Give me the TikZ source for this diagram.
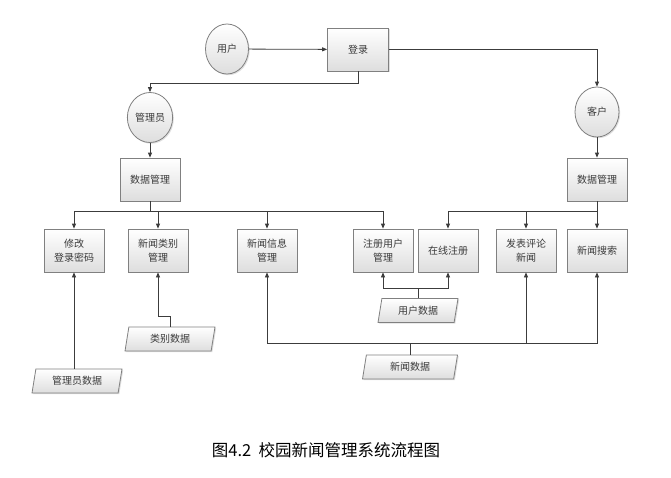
\documentclass[tikz,border=0pt]{standalone}
\usepackage{fontspec}
\newfontfamily\cjk{Noto Sans CJK SC}
\usetikzlibrary{shapes.geometric,arrows.meta,shadows}
\definecolor{linec}{HTML}{3C3C3C}
\definecolor{bordc}{HTML}{808080}
\definecolor{txtc}{HTML}{3A3A3A}
\begin{document}
\begin{tikzpicture}[x=1pt,y=-1pt,
  base/.style={draw=bordc,line width=0.8pt,top color=white,bottom color=black!13,
    drop shadow={opacity=0.25,shadow xshift=1.2pt,shadow yshift=-1.2pt},
    font=\cjk\fontsize{10}{14}\selectfont,text=txtc,align=center,inner sep=1pt},
  proc/.style={base,rectangle,minimum width=60pt,minimum height=43pt},
  actor/.style={base,ellipse,minimum width=43pt,minimum height=50pt},
  datab/.style={base,trapezium,trapezium left angle=71,trapezium right angle=109,
    trapezium stretches body,minimum width=90pt,minimum height=24pt},
  ln/.style={draw=linec,line width=0.8pt},
  arr/.style={ln,-{Triangle[length=5pt,width=4pt]}}]
\useasboundingbox[fill=white] (0,0) rectangle (671,477);
% top level
\node[actor] (user) at (227,49) {用户};
\node[proc,minimum width=61pt] (login) at (358,49.5) {登录};
\node[actor] (admin) at (150,117.5) {管理员};
\node[actor,minimum width=44pt] (cust) at (597,112) {客户};
\node[proc] (dm1) at (150,179.5) {数据管理};
\node[proc] (dm2) at (597,179.5) {数据管理};
% second row
\node[proc] (xg) at (74,250.5) {修改\\登录密码};
\node[proc] (lb) at (158,250.5) {新闻类别\\管理};
\node[proc] (xx) at (267,250.5) {新闻信息\\管理};
\node[proc] (zy) at (383,250.5) {注册用户\\管理};
\node[proc] (zx) at (448,250.5) {在线注册};
\node[proc] (pl) at (526,250.5) {发表评论\\新闻};
\node[proc] (ss) at (597,250.5) {新闻搜索};
% data stores
\node[datab] (gd) at (77,381) {管理员数据};
\node[datab] (lbd) at (170,339) {类别数据};
\node[datab,minimum width=80pt] (ud) at (418,310.5) {用户数据};
\node[datab,minimum width=95pt] (nd) at (410,367) {新闻数据};
% caption
\node[font=\cjk\fontsize{16.5}{20}\selectfont,text=black] (cap) at (326,450) {图4.2\ \ 校园新闻管理系统流程图};
% connectors
\draw[arr] (user) -- (login);
\draw[arr] (login.east) -| (cust.north);
\draw[arr] (login.south) -- ++(0,12) -| (admin.north);
\draw[arr] (admin) -- (dm1);
\draw[arr] (cust) -- (dm2);
\draw[ln] (dm1.south) -- ++(0,10) coordinate (b1);
\draw[arr] (b1) -| (xg.north);
\draw[arr] (b1) -| (lb.north);
\draw[arr] (b1) -| (xx.north);
\draw[arr] (b1) -| (zy.north);
\draw[ln] (dm2.south) -- ++(0,10) coordinate (b2);
\draw[arr] (b2) -- (ss.north);
\draw[arr] (b2) -| (pl.north);
\draw[arr] (b2) -| (zx.north);
\draw[arr] (xg.south |- gd.north) -- (xg.south);
\draw[arr] (lbd.north) -- ++(0,-10) -| (lb.south);
\draw[ln] (ud.north) -- ++(0,-10) coordinate (u1);
\draw[arr] (u1) -| (zy.south);
\draw[arr] (u1) -| (zx.south);
\draw[ln] (nd.north) -- ++(0,-11) coordinate (n1);
\draw[arr] (n1) -| (xx.south);
\draw[arr] (n1) -| (pl.south);
\draw[arr] (n1) -| (ss.south);
\end{tikzpicture}
\end{document}
